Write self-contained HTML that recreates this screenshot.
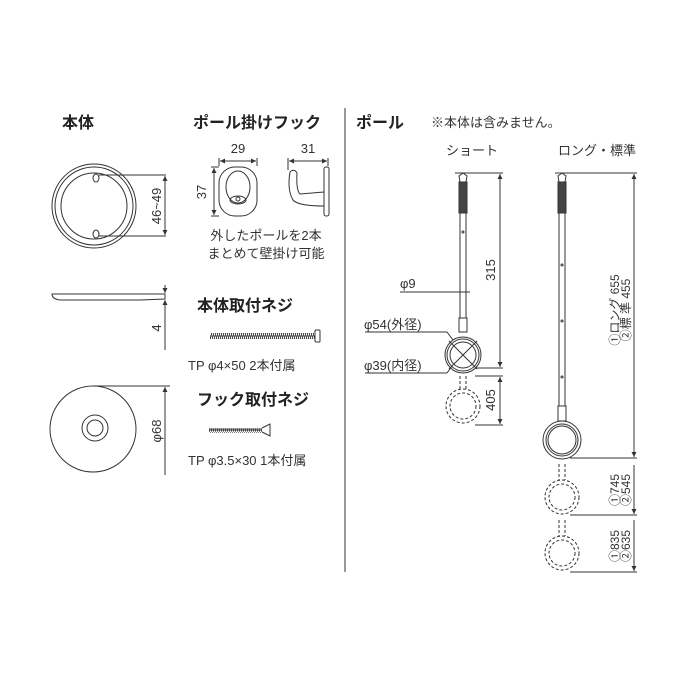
<!DOCTYPE html>
<html><head><meta charset="utf-8"><style>
html,body{margin:0;padding:0;background:#fff}
svg{display:block}
text{font-family:"Liberation Sans","Noto Sans CJK JP",sans-serif;fill:#333}
.b{font-weight:bold;fill:#222}
</style></head><body>
<svg width="700" height="700" viewBox="0 0 700 700" xmlns="http://www.w3.org/2000/svg">
<defs>
<marker id="a" viewBox="0 0 6 6" refX="6" refY="3" markerWidth="5" markerHeight="5" orient="auto-start-reverse"><path d="M0,0L6,3L0,6z" fill="#333"/></marker>
<pattern id="th" width="2" height="8" patternUnits="userSpaceOnUse"><line x1="0" y1="0" x2="2" y2="8" stroke="#333" stroke-width="1"/></pattern>
</defs>
<g stroke="#333" fill="none" stroke-width="1">
<line x1="345" y1="108" x2="345" y2="572"/>
<circle cx="94" cy="206" r="42"/><circle cx="94" cy="206" r="39"/>
<circle cx="94" cy="206" r="33"/>
<ellipse cx="96" cy="178" rx="3" ry="4"/><ellipse cx="96" cy="234" rx="3" ry="4"/>
<line x1="99" y1="175" x2="166" y2="175"/><line x1="99" y1="236" x2="166" y2="236"/>
<line x1="165" y1="176" x2="165" y2="235" marker-start="url(#a)" marker-end="url(#a)"/>
<path d="M52,294 L165,294 L165,299 L140,300 L60,300 Q52,299 52,294z"/>
<line x1="165" y1="285" x2="165" y2="293" marker-end="url(#a)"/>
<line x1="165" y1="300" x2="165" y2="350" marker-start="url(#a)"/>
<circle cx="93" cy="429" r="43"/><circle cx="95" cy="428" r="13"/><circle cx="95" cy="428" r="8"/>
<line x1="93" y1="386" x2="170" y2="386"/>
<line x1="165" y1="387" x2="165" y2="475" marker-start="url(#a)"/>
<rect x="219" y="167" width="38" height="49" rx="16"/>
<ellipse cx="238" cy="187" rx="12" ry="16"/>
<ellipse cx="238" cy="200" rx="8" ry="4"/><circle cx="238" cy="199" r="2"/>
<line x1="219" y1="158" x2="219" y2="166"/><line x1="257" y1="158" x2="257" y2="166"/>
<line x1="220" y1="161" x2="256" y2="161" marker-start="url(#a)" marker-end="url(#a)"/>
<line x1="211" y1="167" x2="219" y2="167"/><line x1="211" y1="216" x2="219" y2="216"/>
<line x1="214" y1="168" x2="214" y2="215" marker-start="url(#a)" marker-end="url(#a)"/>
<rect x="324" y="167" width="5" height="49" rx="2"/>
<path d="M324,192 L300,194 Q296,190 297,173 Q294,168 290,172 Q287,190 293,200 Q298,206 324,206"/>
<line x1="288" y1="158" x2="288" y2="170"/><line x1="328" y1="158" x2="328" y2="166"/>
<line x1="289" y1="161" x2="327" y2="161" marker-start="url(#a)" marker-end="url(#a)"/>
<rect x="210" y="333" width="105" height="6" fill="url(#th)" stroke="none"/>
<line x1="210" y1="336" x2="315" y2="336"/>
<rect x="315" y="330" width="5" height="12" rx="1"/>
<rect x="209" y="428" width="53" height="5" fill="url(#th)" stroke="none"/>
<line x1="209" y1="430" x2="262" y2="430"/>
<path d="M262,428 L270,424 L270,436 L262,432"/>
<line x1="460" y1="212" x2="460" y2="318"/><line x1="466" y1="212" x2="466" y2="318"/>
<rect x="459" y="182" width="8" height="31" fill="#444"/>
<path d="M459,176 L463,173 L467,176 L466,182 L460,182z"/>
<line x1="455" y1="173" x2="503" y2="173"/>
<circle cx="463" cy="232" r="1"/>
<rect x="459" y="318" width="8" height="14"/>
<circle cx="463" cy="355" r="18"/><circle cx="463" cy="355" r="16"/><circle cx="463" cy="355" r="13"/>
<line x1="449" y1="341" x2="477" y2="369"/><line x1="477" y1="341" x2="449" y2="369"/>
<line x1="500" y1="174" x2="500" y2="367" marker-start="url(#a)" marker-end="url(#a)"/>
<line x1="475" y1="368" x2="503" y2="368"/>
<line x1="400" y1="292" x2="470" y2="292"/>
<line x1="365" y1="332" x2="447" y2="332"/><line x1="447" y1="332" x2="453" y2="340"/>
<line x1="365" y1="373" x2="447" y2="373"/><line x1="447" y1="373" x2="452" y2="366"/>
<g stroke-dasharray="3,2">
<line x1="460" y1="376" x2="460" y2="390"/><line x1="466" y1="376" x2="466" y2="390"/>
<circle cx="463" cy="406" r="17"/><circle cx="463" cy="406" r="13"/>
</g>
<line x1="475" y1="376" x2="503" y2="376"/><line x1="475" y1="425" x2="503" y2="425"/>
<line x1="500" y1="377" x2="500" y2="424" marker-start="url(#a)" marker-end="url(#a)"/>
<line x1="559" y1="212" x2="559" y2="406"/><line x1="565" y1="212" x2="565" y2="406"/>
<rect x="558" y="182" width="8" height="31" fill="#444"/>
<path d="M558,176 L562,173 L566,176 L565,182 L559,182z"/>
<line x1="555" y1="173" x2="637" y2="173"/>
<circle cx="562" cy="265" r="1"/><circle cx="562" cy="321" r="1"/><circle cx="562" cy="377" r="1"/>
<rect x="558" y="406" width="8" height="15"/>
<circle cx="562" cy="440" r="19"/><circle cx="562" cy="440" r="16"/><circle cx="562" cy="440" r="14"/>
<line x1="570" y1="458" x2="637" y2="458"/>
<line x1="634" y1="174" x2="634" y2="457" marker-start="url(#a)" marker-end="url(#a)"/>
<line x1="570" y1="515" x2="637" y2="515"/><line x1="570" y1="572" x2="637" y2="572"/>
<line x1="634" y1="465" x2="634" y2="514" marker-end="url(#a)"/>
<line x1="634" y1="520" x2="634" y2="571" marker-end="url(#a)"/>
<g stroke-dasharray="3,2">
<line x1="559" y1="464" x2="559" y2="480"/><line x1="565" y1="464" x2="565" y2="480"/>
<circle cx="562" cy="497" r="17"/><circle cx="562" cy="497" r="13"/>
<line x1="559" y1="520" x2="559" y2="536"/><line x1="565" y1="520" x2="565" y2="536"/>
<circle cx="562" cy="553" r="17"/><circle cx="562" cy="553" r="13"/>
</g>
</g>
<text x="62" y="128" font-size="16" class="b">本体</text>
<text x="193" y="128" font-size="16" class="b">ポール掛けフック</text>
<text x="356" y="128" font-size="16" class="b">ポール</text>
<text x="431" y="127" font-size="13">※本体は含みません。</text>
<text x="472" y="155" font-size="13" text-anchor="middle">ショート</text>
<text x="597" y="155" font-size="13" text-anchor="middle">ロング・標準</text>
<text x="238" y="153" font-size="13" text-anchor="middle">29</text>
<text x="308" y="153" font-size="13" text-anchor="middle">31</text>
<text transform="translate(206,192) rotate(-90)" font-size="13" text-anchor="middle">37</text>
<text transform="translate(161,206) rotate(-90)" font-size="13" text-anchor="middle">46~49</text>
<text transform="translate(161,328) rotate(-90)" font-size="13" text-anchor="middle">4</text>
<text transform="translate(161,431) rotate(-90)" font-size="13" text-anchor="middle">φ68</text>
<text x="266" y="240" font-size="13" text-anchor="middle">外したポールを2本</text>
<text x="266" y="258" font-size="13" text-anchor="middle">まとめて壁掛け可能</text>
<text x="197" y="311" font-size="16" class="b">本体取付ネジ</text>
<text x="188" y="370" font-size="13">TP φ4×50  2本付属</text>
<text x="197" y="405" font-size="16" class="b">フック取付ネジ</text>
<text x="188" y="465" font-size="13">TP φ3.5×30  1本付属</text>
<text x="400" y="288" font-size="13">φ9</text>
<text x="364" y="329" font-size="13">φ54(外径)</text>
<text x="364" y="370" font-size="13">φ39(内径)</text>
<text transform="translate(495,270) rotate(-90)" font-size="13" text-anchor="middle">315</text>
<text transform="translate(495,400) rotate(-90)" font-size="13" text-anchor="middle">405</text>
<text transform="translate(619,310) rotate(-90)" font-size="12" text-anchor="middle">①ロング  655</text>
<text transform="translate(630,310) rotate(-90)" font-size="12" text-anchor="middle">②標 準  455</text>
<text transform="translate(619,490) rotate(-90)" font-size="12" text-anchor="middle">①745</text>
<text transform="translate(630,490) rotate(-90)" font-size="12" text-anchor="middle">②545</text>
<text transform="translate(619,546) rotate(-90)" font-size="12" text-anchor="middle">①835</text>
<text transform="translate(630,546) rotate(-90)" font-size="12" text-anchor="middle">②635</text>
</svg>
</body></html>
